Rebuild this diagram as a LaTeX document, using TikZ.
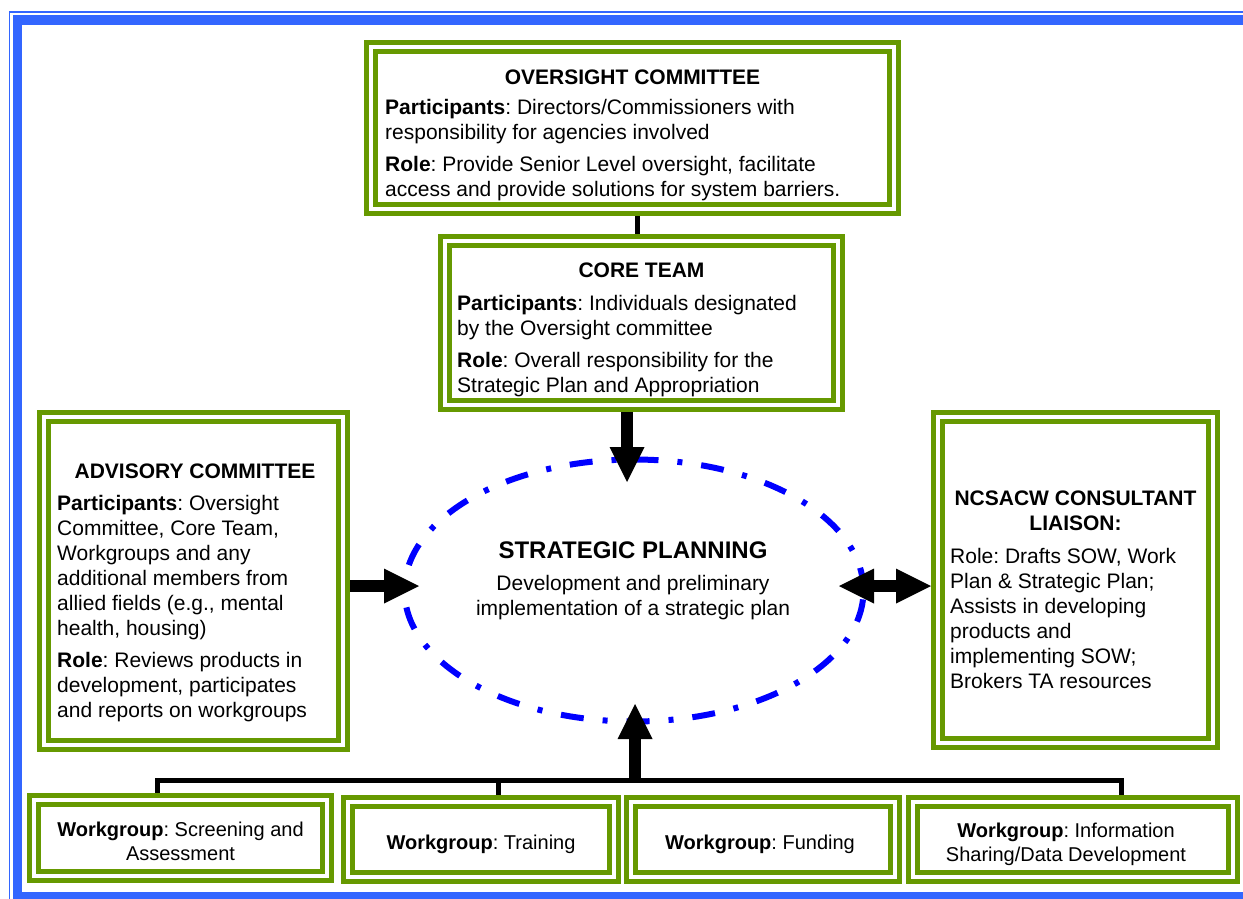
\documentclass[tikz,border=0pt]{standalone}
\usepackage{fontspec}
\setmainfont{Liberation Sans}
\usetikzlibrary{arrows.meta,shapes.geometric}
\definecolor{framegreen}{RGB}{102,153,0}
\definecolor{frameblue}{RGB}{51,102,255}
\definecolor{planblue}{RGB}{0,0,255}
\newcommand\bodyfont{\fontsize{21}{25}\selectfont}
\newcommand\wgfont{\fontsize{20}{24}\selectfont}
\frenchspacing
\begin{document}
\begin{tikzpicture}[x=1pt,y=-1pt,
  gbox/.style={rectangle, draw=framegreen, line width=5pt, double=white,
    double distance=4pt, fill=white, inner sep=0pt, outer sep=7pt},
  boxtitle/.style={inner sep=0pt, anchor=north, font=\bodyfont\bfseries, align=center},
  boxbody/.style={inner sep=0pt, anchor=north west, font=\bodyfont, align=left},
  wgtext/.style={inner sep=0pt, anchor=north, font=\wgfont, align=center},
  link/.style={line width=5pt, line join=miter},
  block/.style={line width=12pt, -{Triangle[length=35pt,width=35pt,line width=0pt]}},
  biblock/.style={line width=12pt,
    {Triangle[length=35pt,width=35pt,line width=0pt]}-{Triangle[length=35pt,width=35pt,line width=0pt]}},
]
\useasboundingbox (0,0) rectangle (1243,899);
\clip (0,0) rectangle (1243,899);

% page frame: thin outer rule and heavy inner rule
\draw[frameblue, line width=1.6pt] (9.5,11.8) rectangle (1290,930);
\draw[frameblue, line width=9.5pt] (17.5,20) rectangle (1275,897);

% committee and team boxes
\node[gbox, minimum width=523pt, minimum height=162pt] (over) at (632.5,128) {};
\node[gbox, minimum width=393pt, minimum height=164pt] (core) at (641.5,323) {};
\node[gbox, minimum width=299pt, minimum height=328pt] (adv) at (193.5,581) {};
\node[gbox, minimum width=275pt, minimum height=326pt] (ncs) at (1075.5,580) {};

% workgroup boxes
\node[gbox, minimum width=293pt, minimum height=76pt] (wga) at (180.5,838) {};
\node[gbox, minimum width=266pt, minimum height=75pt] (wgb) at (481,839.5) {};
\node[gbox, minimum width=264pt, minimum height=75pt] (wgc) at (763,839.5) {};
\node[gbox, minimum width=320pt, minimum height=75pt] (wgd) at (1073,839.5) {};

% central planning ellipse
\node[ellipse, draw=planblue, line width=6pt, dash pattern=on 23pt off 19pt on 5pt off 19pt,
  minimum width=459pt, minimum height=262pt, inner sep=0pt] (plan) at (634,590.5) {};

% free ends of the block arrows
\coordinate (downtip) at (627,482);
\coordinate (advtip) at (419,586);
\coordinate (bileft) at (839,586);
\coordinate (bus) at (635,780);
\coordinate (uptip) at (635,704);

% connectors
\draw[link] ([xshift=4.5pt]over.south) -- ([xshift=4.5pt]over.south |- core.north);
\draw[link] ([xshift=-23.5pt]wga.north) |- (bus) -| ([xshift=48pt]wgd.north);
\draw[link] ([xshift=17pt]wgb.north) |- (bus);

% block arrows
\draw[block] (core.south -| downtip) -- (downtip);
\draw[block] (adv.east |- advtip) -- (advtip);
\draw[biblock] (bileft) -- (ncs.west |- bileft);
\draw[block] ([yshift=2pt]bus) -- (uptip);

% texts
\node[boxtitle] (overtitle) at (632.5,66.5) {\strut OVERSIGHT COMMITTEE};
\node[boxbody] (overbody) at (385,96.5) {\strut\textbf{Participants}: Directors/Commissioners with\\
  responsibility for agencies involved\\[7pt]
  \textbf{Role}: Provide Senior Level oversight, facilitate\\
  access and provide solutions for system barriers.};

\node[boxtitle] (coretitle) at (641.5,259.5) {\strut CORE TEAM};
\node[boxbody] (corebody) at (457,292.5) {\strut\textbf{Participants}: Individuals designated\\
  by the Oversight committee\\[7pt]
  \textbf{Role}: Overall responsibility for the\\
  Strategic Plan and Appropriation};

\node[boxtitle] (advtitle) at (195,460.5) {\strut ADVISORY COMMITTEE};
\node[boxbody] (advbody) at (57,492.5) {\strut\textbf{Participants}: Oversight\\
  Committee, Core Team,\\
  Workgroups and any\\
  additional members from\\
  allied fields (e.g., mental\\
  health, housing)\\[7pt]
  \textbf{Role}: Reviews products in\\
  development, participates\\
  and reports on workgroups};

\node[boxtitle] (ncstitle) at (1075.5,487.5) {\strut NCSACW CONSULTANT\\ LIAISON:};
\node[boxbody] (ncsbody) at (950,545.5) {\strut Role: Drafts SOW, Work\\
  Plan \& Strategic Plan;\\
  Assists in developing\\
  products and\\
  implementing SOW;\\
  Brokers TA resources};

\node[inner sep=0pt, anchor=base, font=\fontsize{24}{28}\selectfont\bfseries] (plantitle) at (633,558) {STRATEGIC PLANNING};
\node[inner sep=0pt, anchor=north, font=\bodyfont, align=center] (plantext) at (633,573) {\strut Development and preliminary\\
  implementation of a strategic plan};

\node[wgtext] (wgatext) at (180.5,819.2) {\strut\textbf{Workgroup}: Screening and\\ Assessment};
\node[wgtext] (wgbtext) at (481,832.2) {\strut\textbf{Workgroup}: Training};
\node[wgtext] (wgctext) at (760,832.2) {\strut\textbf{Workgroup}: Funding};
\node[wgtext] (wgdtext) at (1066,820.2) {\strut\textbf{Workgroup}: Information\\ Sharing/Data Development};
\end{tikzpicture}
\end{document}
